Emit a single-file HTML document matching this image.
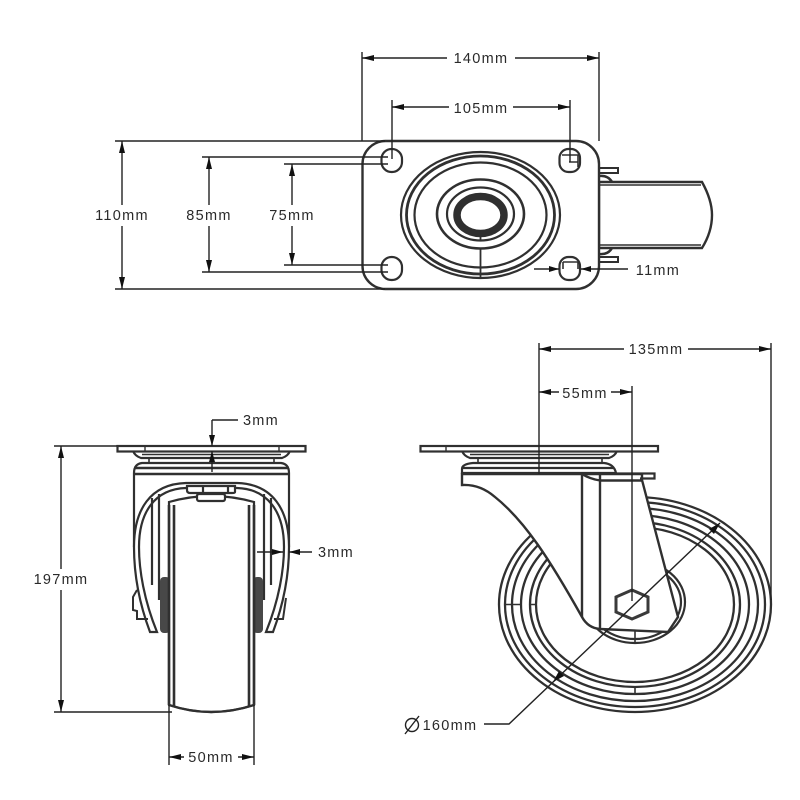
<!DOCTYPE html>
<html><head><meta charset="utf-8"><style>
html,body{margin:0;padding:0;background:#fff}
svg{display:block;stroke-width:2.2}
text{font-family:"Liberation Sans",sans-serif;font-size:14.5px;letter-spacing:1.3px;fill:#2a2a2a;text-anchor:middle;stroke:none}
.o{fill:none;stroke:#303030}
.w{fill:#fff;stroke:#303030}
.d{fill:none;stroke:#222;stroke-width:1.4}
.a{fill:#111;stroke:none}
</style></head><body>
<svg width="800" height="800" viewBox="0 0 800 800" xmlns="http://www.w3.org/2000/svg">
<rect width="800" height="800" fill="#fff" stroke="none"/>

<!-- TOP VIEW -->
<path class="w" d="M599,182 H702 Q712,200 712,215 Q712,232 702,248 H599 Z" stroke-width="2.4"/>
<path class="o" d="M600,185 H701 M600,245 H701" stroke-width="1.6"/>
<path class="o" d="M599,168 H618 V173 H599 M599,257 H618 V262 H599" stroke-width="2"/>
<path class="o" d="M599,176 Q608,175 612,182 M599,254 Q608,255 612,248" stroke-width="2.6"/>
<rect class="w" x="362.5" y="141" width="236.5" height="148" rx="23" stroke-width="2.4"/>
<rect class="o" x="381.5" y="149" width="20.5" height="23" rx="10"/>
<rect class="o" x="381.5" y="257" width="20.5" height="23" rx="10"/>
<rect class="o" x="559.5" y="149" width="20.5" height="23" rx="9"/>
<rect class="o" x="559.5" y="257" width="20.5" height="23" rx="9"/>
<path class="o" d="M562,155 H578 V167 M569,162 H578 M563,262 H578 V269 M563,262 V269" stroke-width="1.6"/>
<ellipse class="o" cx="480.5" cy="215" rx="79.5" ry="63"/>
<ellipse class="o" cx="480.5" cy="215" rx="74" ry="59" stroke-width="2.8"/>
<ellipse class="o" cx="480.5" cy="215" rx="66" ry="52.5"/>
<ellipse class="o" cx="480.5" cy="214" rx="43.5" ry="34.5" stroke-width="2.6"/>
<ellipse class="o" cx="480.5" cy="214" rx="33.5" ry="26.5"/>
<ellipse class="o" cx="480.5" cy="215" rx="23.5" ry="18.5" stroke-width="7.5"/>
<path class="o" d="M480.5,237 V241 M480.5,249 V277" stroke-width="1.8"/>

<!-- FRONT VIEW -->
<path class="w" d="M134,547 V473 Q134,464 142,463 H281 Q289,464 289,473 V547"/>
<path class="o" d="M134,468 H289 M134,474 H289" stroke-width="2.4"/>
<rect class="o" x="149" y="458" width="125" height="5" stroke-width="1.6"/>
<path class="w" d="M133,451 H290 Q288,456 282,458 H141 Q135,456 133,451 Z"/>
<rect class="w" x="117.5" y="446" width="188" height="5.5"/>
<path class="o" d="M145,446 V451 M279,446 V451" stroke-width="1.4"/>
<path class="o" d="M142,454.5 H281" stroke-width="1.6"/>
<!-- arch -->
<path d="M150,632 C138,600 134,570 134,547 C134,510 150,484 186,483 H237 C273,484 289,510 289,547 C289,570 285,600 273,632 H266 C279,600 284,570 284,547 C284,512 268,489 237,488 H186 C155,489 139,512 139,547 C139,570 144,600 157,632 Z" class="w" stroke-width="2.2"/>
<path class="o" d="M152,498 V585 M159,494 V600 M271,498 V585 M264,494 V600" stroke-width="2.2"/>
<!-- brackets -->
<path class="o" d="M137,590 L133,597 V610 L137,611 V619 H148 M286,598 L283,619 H274" stroke-width="2"/>
<!-- hubs -->
<rect x="160" y="577" width="10" height="56" rx="4" fill="#484848" stroke="none"/>
<rect x="253" y="577" width="10" height="56" rx="4" fill="#484848" stroke="none"/>
<!-- wheel -->
<path class="w" d="M169,502 Q211,490 254,502 V705 Q211,719 169,705 Z"/>
<path class="o" d="M169,505 V705 M174,505 V707 M249,505 V707 M254,505 V705" stroke-width="2.6"/>
<path class="o" d="M169,705 Q211,719 254,705" stroke-width="2.4"/>
<!-- nuts -->
<path class="w" d="M187,486 H235 V492 Q235,493 232,493 H190 Q187,493 187,490 Z"/>
<path class="o" d="M203,486 V493 M228,486 V493"/>
<rect class="w" x="197" y="494" width="28" height="7" rx="2"/>

<!-- SIDE VIEW -->
<g class="o" stroke-width="2.3">
<ellipse cx="635" cy="604.5" rx="136" ry="107.5"/>
<ellipse cx="635" cy="604.5" rx="130" ry="102.5"/>
<ellipse cx="635" cy="604.5" rx="123" ry="96.5"/>
<ellipse cx="635" cy="604.5" rx="114" ry="89.5"/>
<ellipse cx="635" cy="604.5" rx="105" ry="82.5"/>
<ellipse cx="635" cy="604.5" rx="99" ry="77.5"/>
</g>
<ellipse class="w" cx="635" cy="602" rx="50" ry="41"/>
<ellipse class="o" cx="635" cy="602" rx="46" ry="37"/>
<path class="o" d="M505,604.5 H512 M512,604.5 H521 M530,604.5 H536 M635,687 V694 M635,631 V642" stroke-width="1.6"/>
<!-- fork -->
<path class="w" d="M462,474 V485 Q480,484 495,497 C525,521 550,560 582,617 Q588,628 600,629 L668,632 L678,617 L642,480 V474 H582 Z" stroke-width="2.4"/>
<path class="o" d="M582,474 V617 M600,474 V630 M582,474 Q590,479 600,480.5 H642" stroke-width="2.4"/>
<path class="o" d="M582,473.5 H654.5 V478.5 H640" stroke-width="2.2"/>
<path class="w" d="M462,474 V469 Q462,464 473,463 H604 Q614,464 616,473 H462 Z"/>
<path class="o" d="M462,468 H613" stroke-width="2.2"/>
<rect class="o" x="478" y="458" width="124" height="5" stroke-width="1.6"/>
<path class="w" d="M462,451 H617 Q615,456 609,458 H470 Q464,456 462,451 Z"/>
<rect class="w" x="420.5" y="446" width="237.5" height="5.5"/>
<path class="o" d="M446,446 V451" stroke-width="1.4"/>
<path class="o" d="M470,454.5 H609" stroke-width="1.6"/>
<path fill="#fff" stroke="#3a3a3a" stroke-width="3" d="M632,590 L648,597 V612 L632,619 L616,612 V597 Z"/>

<!-- DIMENSIONS -->
<g class="d">
<path d="M362,52 V141 M599,52 V141"/>
<path d="M362,58 H447 M599,58 H515" />
<path d="M392,100 V159 M570,100 V162"/>
<path d="M392,107 H449 M570,107 H513"/>
<path d="M115,141 H385 M115,289 H385"/>
<path d="M202,157 H388 M202,272 H388"/>
<path d="M284,164 H388 M284,265 H388"/>
<path d="M122,141 V205 M122,289 V226"/>
<path d="M209,157 V205 M209,272 V226"/>
<path d="M292,164 V205 M292,265 V226"/>
<path d="M534,269 H559 M628,269 H581"/>
<path d="M54,446 H117 M54,712 H172"/>
<path d="M61,446 V569 M61,712 V590"/>
<path d="M212,430 V446 M212,420 H238 M212,420 V432 M212,472 V451"/>
<path d="M257,552 H283 M312,552 H289"/>
<path d="M169,705 V765 M254,705 V765"/>
<path d="M169,757 H184 M254,757 H238"/>
<path d="M539,343 V474 M771,343 V600 M632,386 V601"/>
<path d="M539,349 H624 M771,349 H688"/>
<path d="M539,392 H559 M632,392 H611"/>
<path d="M484,724 H509 L720,523"/>
</g>
<g class="a">
<path d="M362,58 L374,55 V61 Z M599,58 L587,55 V61 Z"/>
<path d="M392,107 L404,104 V110 Z M570,107 L558,104 V110 Z"/>
<path d="M122,141 L119,153 H125 Z M122,289 L119,277 H125 Z"/>
<path d="M209,157 L206,169 H212 Z M209,272 L206,260 H212 Z"/>
<path d="M292,164 L289,176 H295 Z M292,265 L289,253 H295 Z"/>
<path d="M559,269 L549,266 V272 Z M581,269 L591,266 V272 Z"/>
<path d="M61,446 L58,458 H64 Z M61,712 L58,700 H64 Z"/>
<path d="M212,446 L209,435 H215 Z M212,451 L209,462 H215 Z"/>
<path d="M283,552 L272,549 V555 Z M289,552 L300,549 V555 Z"/>
<path d="M169,757 L181,754 V760 Z M254,757 L242,754 V760 Z"/>
<path d="M539,349 L551,346 V352 Z M771,349 L759,346 V352 Z"/>
<path d="M539,392 L551,389 V395 Z M632,392 L620,389 V395 Z"/>
<path d="M720,523 L709,529 L714,534 Z M553,682 L564,676 L559,671 Z"/>
</g>

<text x="481" y="63">140mm</text>
<text x="481" y="113">105mm</text>
<text x="122" y="220">110mm</text>
<text x="209" y="220">85mm</text>
<text x="292" y="220">75mm</text>
<text x="658" y="275">11mm</text>
<text x="261" y="425">3mm</text>
<text x="336" y="557">3mm</text>
<text x="61" y="584">197mm</text>
<text x="211" y="762">50mm</text>
<text x="656" y="354">135mm</text>
<text x="585" y="398">55mm</text>
<text x="450" y="730">160mm</text>
<circle class="d" cx="412" cy="725" r="6.5"/>
<path class="d" d="M405,734 L419,716"/>
</svg>
</body></html>
